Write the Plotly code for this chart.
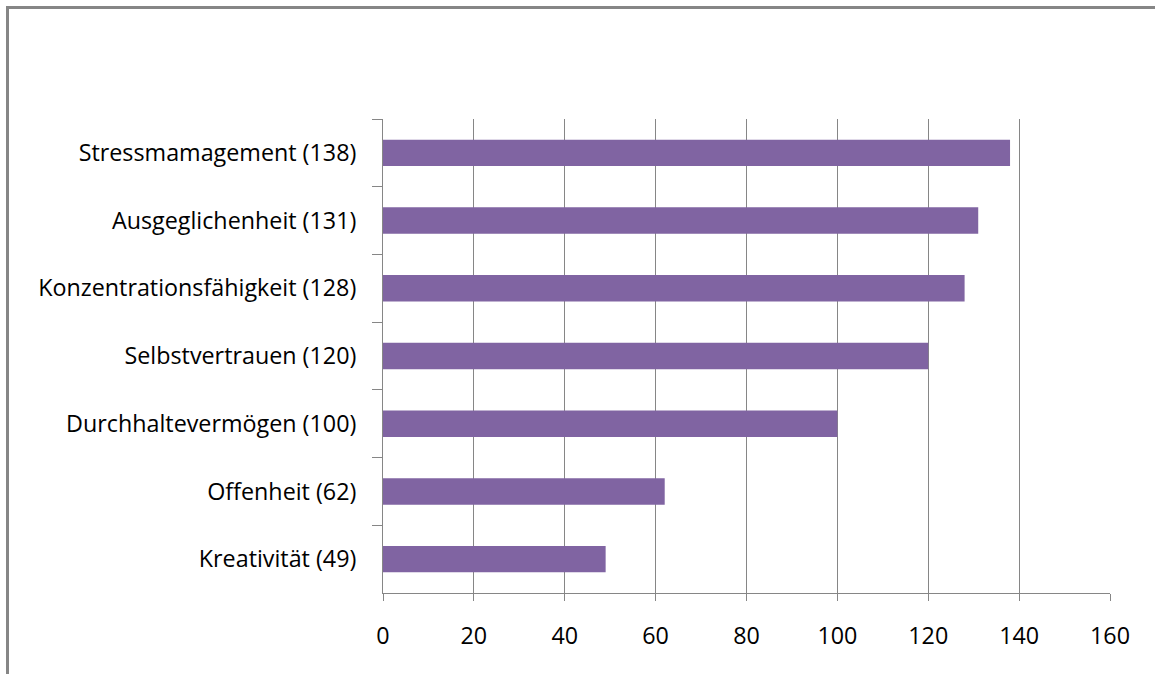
import plotly.graph_objects as go

categories = ["Stressmamagement (138)", "Ausgeglichenheit (131)", "Konzentrationsfähigkeit (128)",
              "Selbstvertrauen (120)", "Durchhaltevermögen (100)", "Offenheit (62)", "Kreativität (49)"]
values = [138, 131, 128, 120, 100, 62, 49]
x_ticks = [0, 20, 40, 60, 80, 100, 120, 140, 160]

W, H = 1155, 674
L, R, T, B = 383, 45, 119, 81
pw, ph = W - L - R, H - T - B

fig = go.Figure(go.Bar(
    y=categories, x=values, orientation="h",
    marker=dict(color="#8064A2", line=dict(width=0)),
    width=0.39,
))

font = dict(family="'Open Sans', Lato, sans-serif", size=23.3, color="#000000")

fig.update_layout(
    width=W, height=H,
    margin=dict(l=L, r=R, t=T, b=B, pad=0),
    paper_bgcolor="white", plot_bgcolor="white",
    showlegend=False,
    xaxis=dict(range=[0, 160], tickvals=x_ticks, ticktext=[str(v) for v in x_ticks],
               showgrid=True, gridcolor="#868686", gridwidth=1,
               showline=True, linecolor="#868686", linewidth=1,
               ticks="outside", ticklen=7, tickcolor="#868686",
               tickfont=font, zeroline=False, ticklabelstandoff=15),
    yaxis=dict(categoryorder="array", categoryarray=categories, autorange="reversed",
               showgrid=False, showline=True, linecolor="#868686", linewidth=1,
               ticks="outside", ticklen=10, tickcolor="#868686", tickson="boundaries",
               tickfont=font, ticklabelstandoff=21),
)

# outer chart frame (left and top edges visible; right/bottom run off the page)
fx0 = (7.5 - L) / pw
fx1 = (W + 10 - L) / pw
fy1 = 1 + (T - 7.5) / ph
fy0 = -(B + 10) / ph
fig.add_shape(type="rect", xref="paper", yref="paper", x0=fx0, x1=fx1, y0=fy0, y1=fy1,
              line=dict(color="#868686", width=3), fillcolor="rgba(0,0,0,0)", layer="above")

fig.write_html("out.html")
